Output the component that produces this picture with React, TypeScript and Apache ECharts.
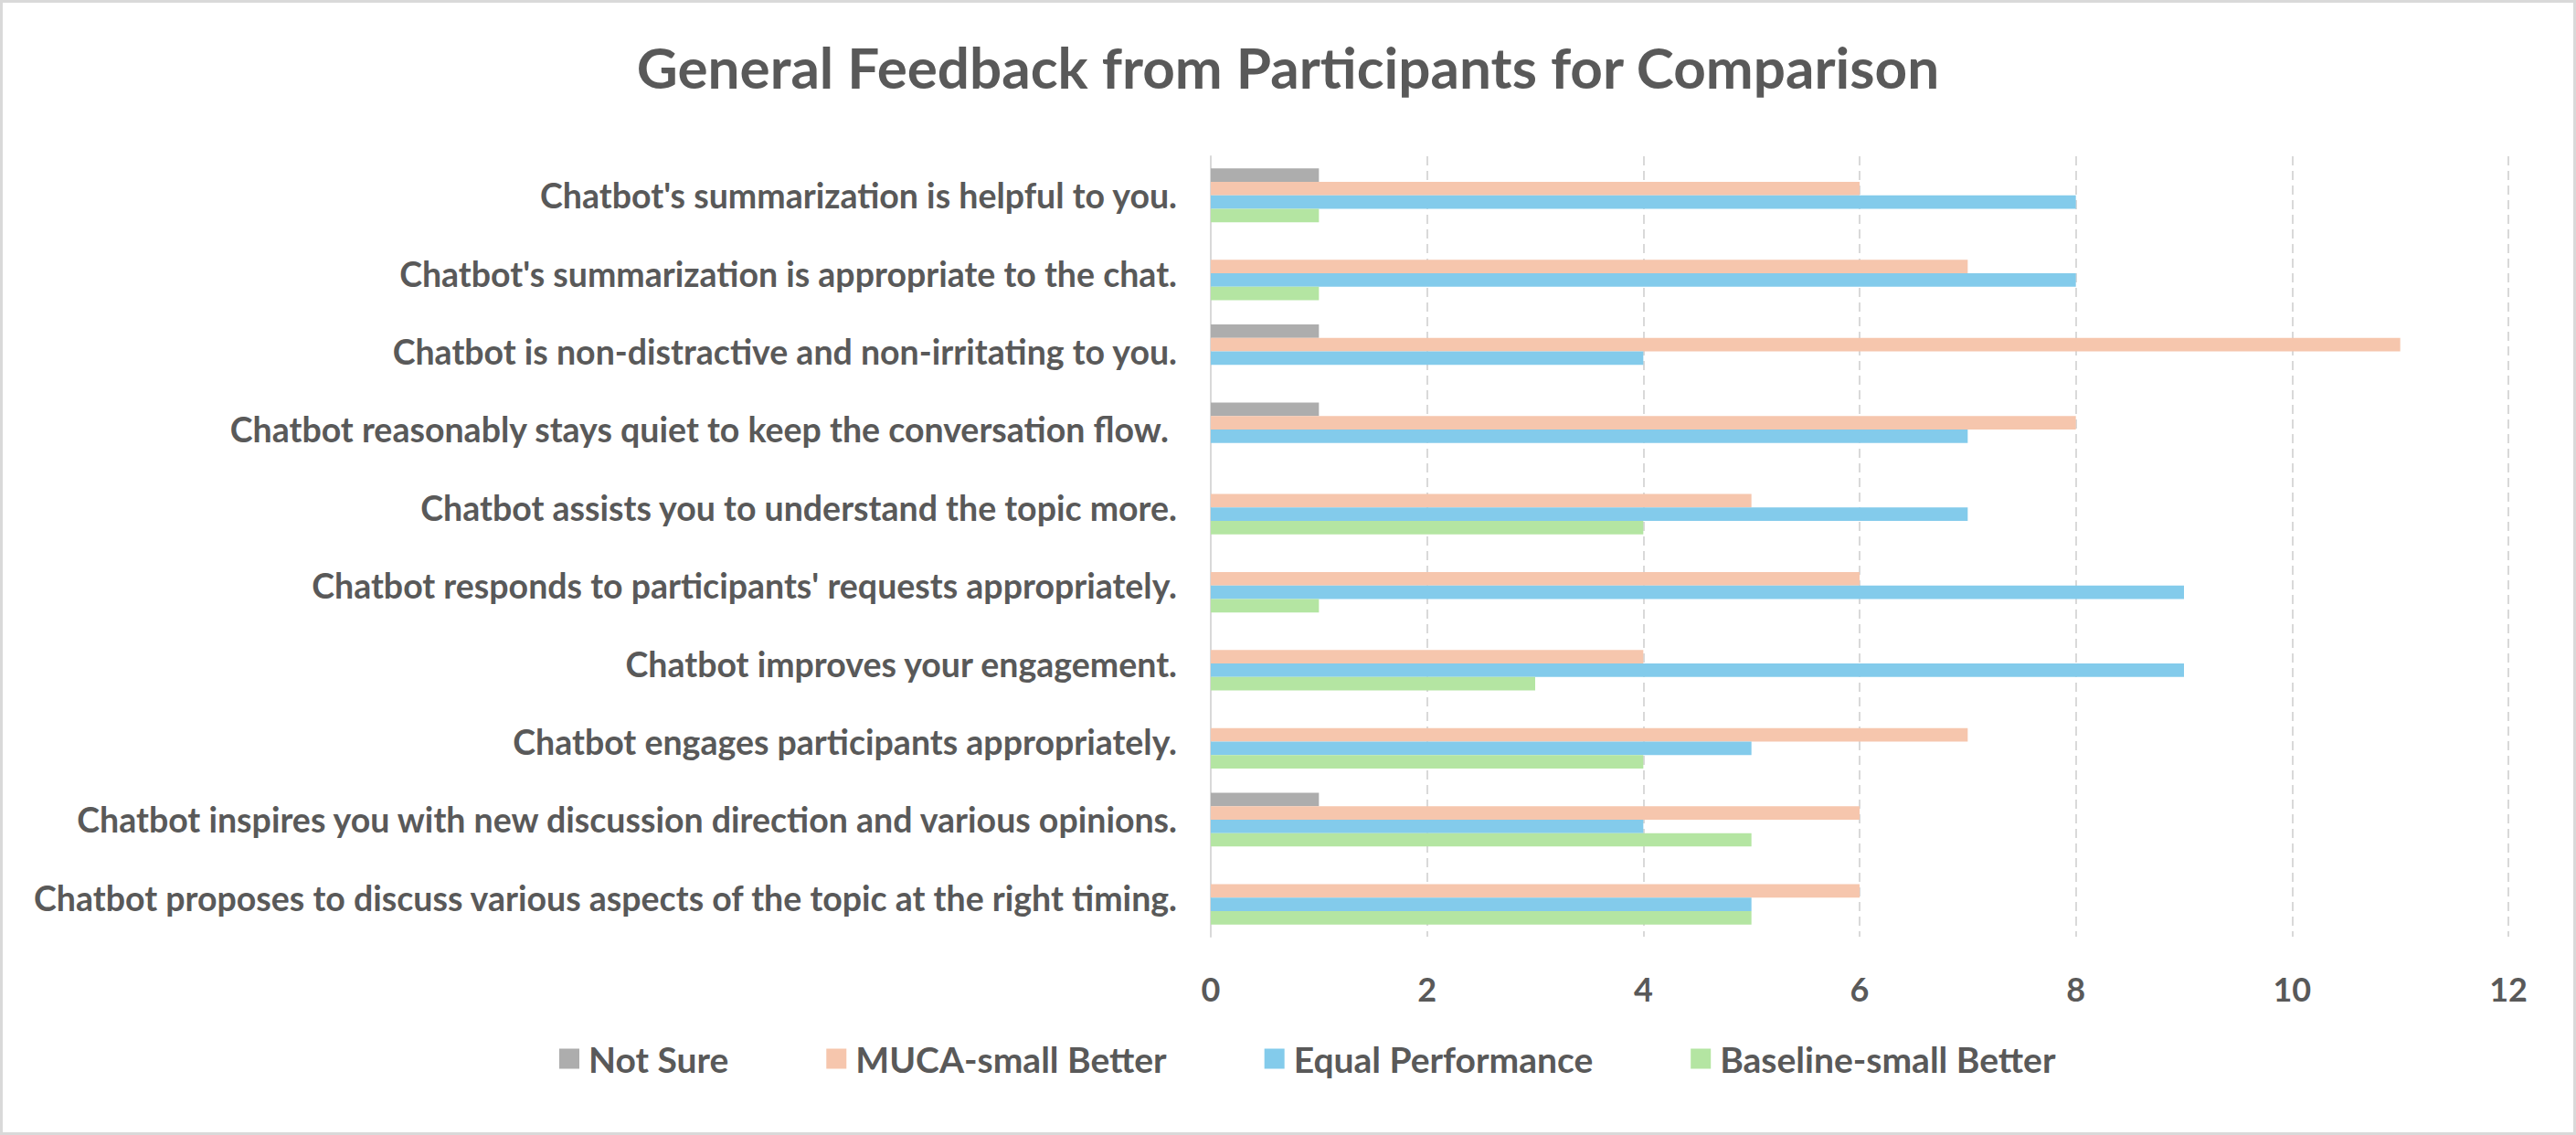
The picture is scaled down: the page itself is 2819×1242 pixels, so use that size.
import React, { useEffect, useRef } from "react";
import * as echarts from "echarts";

const categories = [
  "Chatbot's summarization is helpful to you.",
  "Chatbot's summarization is appropriate to the chat.",
  "Chatbot is non-distractive and non-irritating to you.",
  "Chatbot reasonably stays quiet to keep the conversation flow. ",
  "Chatbot assists you to understand the topic more.",
  "Chatbot responds to participants' requests appropriately.",
  "Chatbot improves your engagement.",
  "Chatbot engages participants appropriately.",
  "Chatbot inspires you with new discussion direction and various opinions.",
  "Chatbot proposes to discuss various aspects of the topic at the right timing.",
];

const seriesNames = ["Not Sure", "MUCA-small Better", "Equal Performance", "Baseline-small Better"];
const notSure = [1, 0, 1, 1, 0, 0, 0, 0, 1, 0];
const mucaBetter = [6, 7, 11, 8, 5, 6, 4, 7, 6, 6];
const equalPerf = [8, 8, 4, 7, 7, 9, 9, 5, 4, 5];
const baselineBetter = [1, 1, 0, 0, 4, 1, 3, 4, 5, 5];
const xTicks = [0, 2, 4, 6, 8, 10, 12];

const colors = ["#ADADAD", "#F6C6AD", "#83CBEB", "#B4E5A2"];
const FONT = "Lato";
const TXT = "#595959";

export default function App() {
  const ref = useRef<HTMLDivElement>(null);
  useEffect(() => {
    document.body.style.margin = "0";
    const chart = echarts.init(ref.current!, null, { renderer: "svg" });
    const data = [notSure, mucaBetter, equalPerf, baselineBetter];
    chart.setOption({
      animation: false,
      backgroundColor: "#ffffff",
      title: {
        text: "General Feedback from Participants for Comparison",
        left: "center",
        top: 37,
        textStyle: { fontFamily: FONT, fontSize: 62, fontWeight: "bold", color: TXT },
      },
      graphic: [
        {
          type: "rect",
          shape: { x: 1.5, y: 1.5, width: 2816, height: 1239 },
          style: { fill: "none", stroke: "#D9D9D9", lineWidth: 3 },
          silent: true,
        },
      ],
      legend: {
        data: seriesNames,
        left: 607,
        top: 1134,
        icon: "rect",
        itemWidth: 22,
        itemHeight: 22,
        itemGap: 107,
        textStyle: { fontFamily: FONT, fontSize: 39, fontWeight: "bold", color: TXT, padding: [0, 0, 0, 5] },
      },
      grid: { left: 1325, right: 74, top: 171, bottom: 217, containLabel: false },
      xAxis: {
        type: "value",
        min: 0,
        max: 12,
        interval: 2,
        axisLine: { show: false },
        axisTick: { show: false },
        axisLabel: {
          margin: 39,
          fontFamily: FONT,
          fontSize: 36,
          fontWeight: "bold",
          color: TXT,
          formatter: (v: number) => (xTicks.includes(v) ? String(v) : ""),
        },
        splitLine: { show: true, lineStyle: { color: "#D9D9D9", width: 2, type: [10, 6] } },
      },
      yAxis: {
        type: "category",
        data: categories,
        inverse: true,
        axisLine: { show: true, lineStyle: { color: "#D9D9D9", width: 2 } },
        axisTick: { show: false },
        axisLabel: {
          margin: 37,
          fontFamily: FONT,
          fontSize: 37.5,
          fontWeight: "bold",
          color: TXT,
        },
      },
      series: seriesNames.map((name, i) => ({
        name,
        type: "bar",
        data: data[i],
        barGap: "0%",
        barCategoryGap: "31%",
        itemStyle: { color: colors[i] },
      })),
    });
    return () => chart.dispose();
  }, []);
  return <div ref={ref} style={{ width: 2819, height: 1242 }} />;
}
